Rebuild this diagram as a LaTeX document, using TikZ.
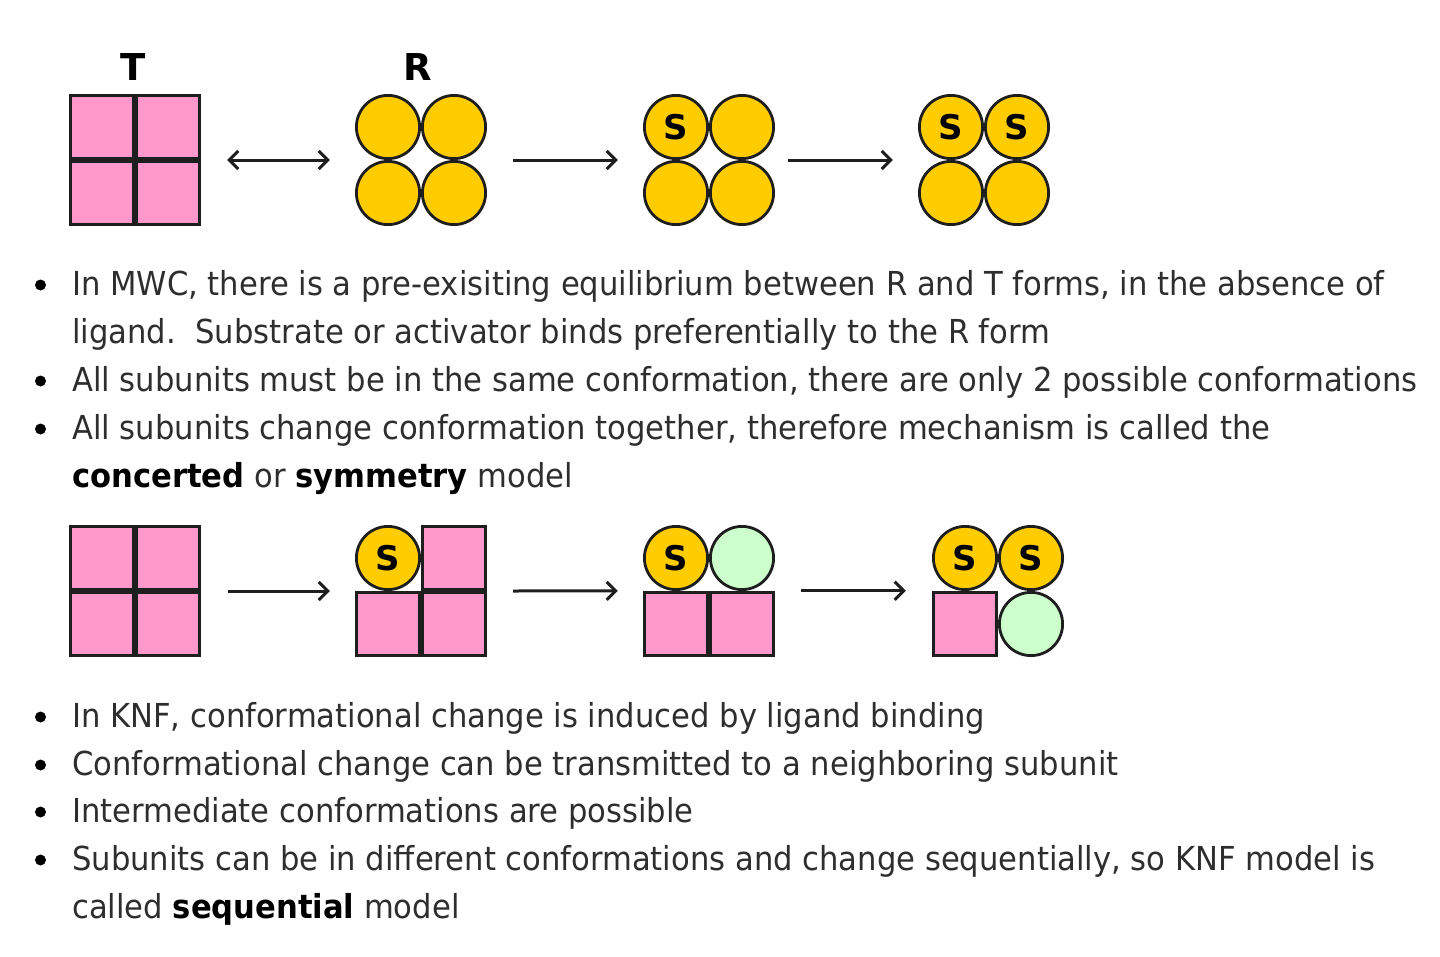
\documentclass[tikz,border=0pt]{standalone}
\usepackage{fontspec}
\setmainfont{DejaVu Sans}[FakeStretch=0.928]
\newfontfamily\labfont{DejaVu Sans}
\usetikzlibrary{arrows.meta,fit}
\definecolor{pinkc}{HTML}{FF99CC}
\definecolor{yellowc}{HTML}{FFCC00}
\definecolor{greenc}{HTML}{CCFFCC}
\definecolor{txt}{HTML}{2E2E2E}
\definecolor{edge}{HTML}{1E1E1E}
\tikzset{
  barb/.tip={Straight Barb[length=9pt,width=18pt,line width=3pt]},
  sq/.style={rectangle, draw=edge, line width=2.8pt, fill=pinkc, minimum size=63.2pt, inner sep=0pt},
  yc/.style={circle, draw=edge, line width=2.8pt, fill=yellowc, minimum size=63.2pt, inner sep=0pt,
             font=\labfont\bfseries\fontsize{34}{34}\selectfont, text=black},
  gc/.style={circle, draw=edge, line width=2.8pt, fill=greenc, minimum size=63.2pt, inner sep=0pt},
  grp/.style={inner sep=0pt},
  arr/.style={draw=edge, line width=3pt, -barb},
  darr/.style={draw=edge, line width=3pt, barb-barb},
  lab/.style={font=\labfont\bfseries\fontsize{37}{37}\selectfont, text=black, inner sep=0pt},
  line/.style={anchor=base west, inner sep=0pt, font=\fontsize{33}{40}\selectfont, text=txt},
  bul/.style={circle, fill=black, minimum size=11pt, inner sep=0pt},
}
\newcommand{\bw}[1]{\textcolor{black}{\bfseries #1}}
\begin{document}
\begin{tikzpicture}[x=1pt,y=-1pt]
\useasboundingbox (0,0) rectangle (1440,956);

% ---------- top row (MWC) ----------
\node[lab] (Tlab) at (133,67) {T};
\node[lab] (Rlab) at (418,67) {R};

\node[sq] (T11) at (102,127) {};
\node[sq] (T12) at (168,127) {};
\node[sq] (T21) at (102,193) {};
\node[sq] (T22) at (168,193) {};
\node[grp, fit=(T11)(T22)] (Tg) {};

\node[yc] (R11) at (388,127) {};
\node[yc] (R12) at (454,127) {};
\node[yc] (R21) at (388,193) {};
\node[yc] (R22) at (454,193) {};
\node[grp, fit=(R11)(R22)] (Rg) {};

\node[yc] (A11) at (676,127) {S};
\node[yc] (A12) at (742,127) {};
\node[yc] (A21) at (676,193) {};
\node[yc] (A22) at (742,193) {};
\node[grp, fit=(A11)(A22)] (Ag) {};

\node[yc] (B11) at (951,127) {S};
\node[yc] (B12) at (1017,127) {S};
\node[yc] (B21) at (951,193) {};
\node[yc] (B22) at (1017,193) {};
\node[grp, fit=(B11)(B22)] (Bg) {};

\draw[darr] ([xshift=26pt]Tg.east) -- ([xshift=-25pt]Rg.west);
\draw[arr] ([xshift=26pt]Rg.east) -- ([xshift=-25pt]Ag.west);
\draw[arr] ([xshift=13pt]Ag.east) -- ([xshift=-25pt]Bg.west);

% ---------- MWC text ----------
\node[bul] (b1) at (40.5,285) {};
\node[line] (l1) at (72,295) {In MWC, there is a pre-exisiting equilibrium between R and T forms, in the absence of};
\node[line] (l2) at (72,343) {ligand.\ \ Substrate or activator binds preferentially to the R form};
\node[bul] (b2) at (40.5,381) {};
\node[line] (l3) at (72,391) {All subunits must be in the same conformation, there are only 2 possible conformations};
\node[bul] (b3) at (40.5,429) {};
\node[line] (l4) at (72,439) {All subunits change conformation together, therefore mechanism is called the};
\node[line] (l5) at (72,487) {\bw{concerted} or \bw{symmetry} model};

% ---------- bottom row (KNF) ----------
\node[sq] (K11) at (102,558) {};
\node[sq] (K12) at (168,558) {};
\node[sq] (K21) at (102,624) {};
\node[sq] (K22) at (168,624) {};
\node[grp, fit=(K11)(K22)] (Kg) {};

\node[sq] (L12) at (454,558) {};
\node[sq] (L21) at (388,624) {};
\node[sq] (L22) at (454,624) {};
\node[yc] (L11) at (388,558) {S};
\node[grp, fit=(L21)(L12)] (Lg) {};

\node[sq] (M21) at (676,624) {};
\node[sq] (M22) at (742,624) {};
\node[yc] (M11) at (676,558) {S};
\node[gc] (M12) at (742,558) {};
\node[grp, fit=(M21)(M22)] (Mg) {};

\node[sq] (N21) at (965,624) {};
\node[yc] (N11) at (965,558) {S};
\node[yc] (N12) at (1031,558) {S};
\node[gc] (N22) at (1031,624) {};
\node[grp, fit=(N21)(N22)] (Ng) {};

\draw[arr] ([xshift=27pt]Kg.east) -- ([xshift=-25pt]Lg.west);
\draw[arr] ([xshift=26pt]Lg.east) -- ([xshift=-25pt]Mg.north west);
\draw[arr] ([xshift=26pt]Mg.north east) -- ([xshift=-26pt]Ng.north west);

% ---------- KNF text ----------
\node[bul] (b4) at (40.5,717) {};
\node[line] (l6) at (72,727) {In KNF, conformational change is induced by ligand binding};
\node[bul] (b5) at (40.5,765) {};
\node[line] (l7) at (72,775) {Conformational change can be transmitted to a neighboring subunit};
\node[bul] (b6) at (40.5,812) {};
\node[line] (l8) at (72,822) {Intermediate conformations are possible};
\node[bul] (b7) at (40.5,860) {};
\node[line] (l9) at (72,870) {Subunits can be in different conformations and change sequentially, so KNF model is};
\node[line] (l10) at (72,918) {called \bw{sequential} model};
\end{tikzpicture}
\end{document}
